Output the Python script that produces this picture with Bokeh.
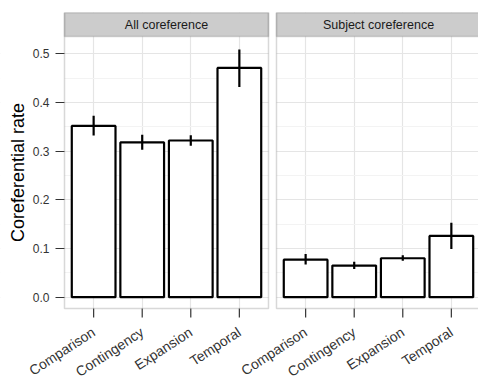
import math
from bokeh.plotting import figure
from bokeh.models import FixedTicker, BoxAnnotation, Label, Range1d, ColumnDataSource
from bokeh.embed import file_html
from bokeh.resources import INLINE

# ---- data ----
categories = ["Comparison", "Contingency", "Expansion", "Temporal"]
panels = ["All coreference", "Subject coreference"]
all_rate = [0.352, 0.318, 0.322, 0.471]
all_lo = [0.332, 0.303, 0.311, 0.432]
all_hi = [0.373, 0.334, 0.333, 0.509]
subj_rate = [0.077, 0.065, 0.080, 0.126]
subj_lo = [0.067, 0.058, 0.075, 0.099]
subj_hi = [0.089, 0.073, 0.086, 0.153]
y_ticks = [0.0, 0.1, 0.2, 0.3, 0.4, 0.5]
y_minor = [0.05, 0.15, 0.25, 0.35, 0.45]
y_tick_labels = ["0.0", "0.1", "0.2", "0.3", "0.4", "0.5"]

FONT = "Liberation Sans"
GRID_MAJOR = "#e5e5e5"
GRID_MINOR = "#f3f3f3"
BORDER = "#7f7f7f"
TICK = "#333333"

# facet geometry on one numeric x scale (ggplot: 0.6 pad per side)
PX_X = 48.57      # px per category
PX_Y = 486.7      # px per unit of rate
pad = 0.6
gap = 8 / PX_X
n = len(categories)
panel_w = n - 1 + 2 * pad
left_start = 1 - pad
left_end = left_start + panel_w
right_start = left_end + gap
offset = right_start + pad - 1
x_left = [i + 1 for i in range(n)]
x_right = [i + 1 + offset for i in range(n)]

W, H = 478, 379
PANEL_LEFT_PX, MT = 64, 12
ZERO_PX = 296.7            # canvas y of rate 0
y_end = (ZERO_PX - MT) / PX_Y
y_bottom = -(H - ZERO_PX) / PX_Y
panel_bottom = -(308 - ZERO_PX) / PX_Y
strip_bottom = (ZERO_PX - 36) / PX_Y
x_start = left_start - PANEL_LEFT_PX / PX_X
x_end = left_start + (W - PANEL_LEFT_PX) / PX_X

p = figure(width=W, height=H, output_backend="svg", toolbar_location=None,
           x_range=Range1d(x_start, x_end), y_range=Range1d(y_bottom, y_end),
           x_axis_location=None,
           min_border_left=0, min_border_right=0, min_border_top=MT, min_border_bottom=0,
           background_fill_color="white", border_fill_color="white")
p.outline_line_color = None

# grids
p.xgrid.ticker = FixedTicker(ticks=x_left + x_right)
p.xgrid.grid_line_color = GRID_MAJOR
p.xgrid.grid_line_width = 1.2
p.ygrid.ticker = FixedTicker(ticks=y_ticks, minor_ticks=y_minor)
p.ygrid.grid_line_color = GRID_MAJOR
p.ygrid.grid_line_width = 1.2
p.ygrid.minor_grid_line_color = GRID_MINOR
p.ygrid.minor_grid_line_width = 1.2

# white areas outside the panels (hide grid lines there)
p.add_layout(BoxAnnotation(left=x_start, right=x_end, bottom=y_bottom, top=panel_bottom,
                           fill_color="white", fill_alpha=1, line_color=None, level="underlay"))
p.add_layout(BoxAnnotation(left=x_start, right=left_start, bottom=y_bottom, top=y_end,
                           fill_color="white", fill_alpha=1, line_color=None, level="underlay"))

# bars + error bars
for xs, rate, lo, hi in [(x_left, all_rate, all_lo, all_hi), (x_right, subj_rate, subj_lo, subj_hi)]:
    src = ColumnDataSource(dict(x=xs, top=rate, lo=lo, hi=hi))
    p.vbar(x="x", top="top", bottom=0, width=0.9, source=src,
           fill_color="white", line_color="black", line_width=2.2)
    p.segment(x0="x", y0="lo", x1="x", y1="hi", source=src, line_color="black", line_width=2.2)

# x axis: ticks and rotated category labels under each facet
xsrc = ColumnDataSource(dict(x=x_left + x_right, label=categories + categories,
                             y=[panel_bottom] * (2 * n)))
p.ray(x="x", y="y", length=9, length_units="screen", angle=-math.pi / 2, source=xsrc,
      line_color=TICK, line_width=1.2)
p.text(x="x", y="y", text="label", source=xsrc, angle=0.58, text_align="right",
       text_baseline="middle", y_offset=22, x_offset=0,
       text_font={"value": FONT}, text_font_size={"value": "14px"}, text_color=TICK)

# gap between panels
p.add_layout(BoxAnnotation(left=left_end, right=right_start, bottom=panel_bottom, top=y_end,
                           fill_color="white", fill_alpha=1, line_color=None, level="overlay"))
# strips and panel borders
for a, b in [(left_start, left_end), (right_start, right_start + panel_w)]:
    p.add_layout(BoxAnnotation(left=a, right=b, bottom=strip_bottom, top=y_end,
                               fill_color="#cccccc", fill_alpha=1, line_color=BORDER,
                               line_width=1.5, level="overlay"))
    p.add_layout(BoxAnnotation(left=a, right=b, bottom=panel_bottom, top=y_end,
                               fill_alpha=0, line_color=BORDER, line_width=1.5, level="overlay"))
for cx, txt in [((left_start + left_end) / 2, panels[0]),
                (right_start + panel_w / 2, panels[1])]:
    p.add_layout(Label(x=cx, y=(strip_bottom + y_end) / 2, text=txt, text_align="center",
                       text_baseline="middle", text_font=FONT, text_font_size="12.5px",
                       text_color="#1a1a1a", level="overlay"))

# y axis, drawn at the left edge of the first panel
ya = p.yaxis[0]
ya.fixed_location = left_start
ya.bounds = (panel_bottom, strip_bottom)
ya.ticker = FixedTicker(ticks=y_ticks)
ya.major_label_overrides = {t: l for t, l in zip(y_ticks, y_tick_labels)}
ya.axis_line_color = None
ya.major_tick_out = 9
ya.major_tick_in = 0
ya.major_tick_line_color = TICK
ya.major_tick_line_width = 1.2
ya.minor_tick_line_color = None
ya.major_label_text_font = FONT
ya.major_label_text_font_size = "12px"
ya.major_label_text_color = TICK
ya.major_label_standoff = 6
ya.axis_label = "Coreferential rate"
ya.axis_label_text_font = FONT
ya.axis_label_text_font_size = "18px"
ya.axis_label_text_font_style = "normal"
ya.axis_label_text_color = "black"
ya.axis_label_standoff = 2

open("out.html", "w").write(file_html(p, INLINE))
